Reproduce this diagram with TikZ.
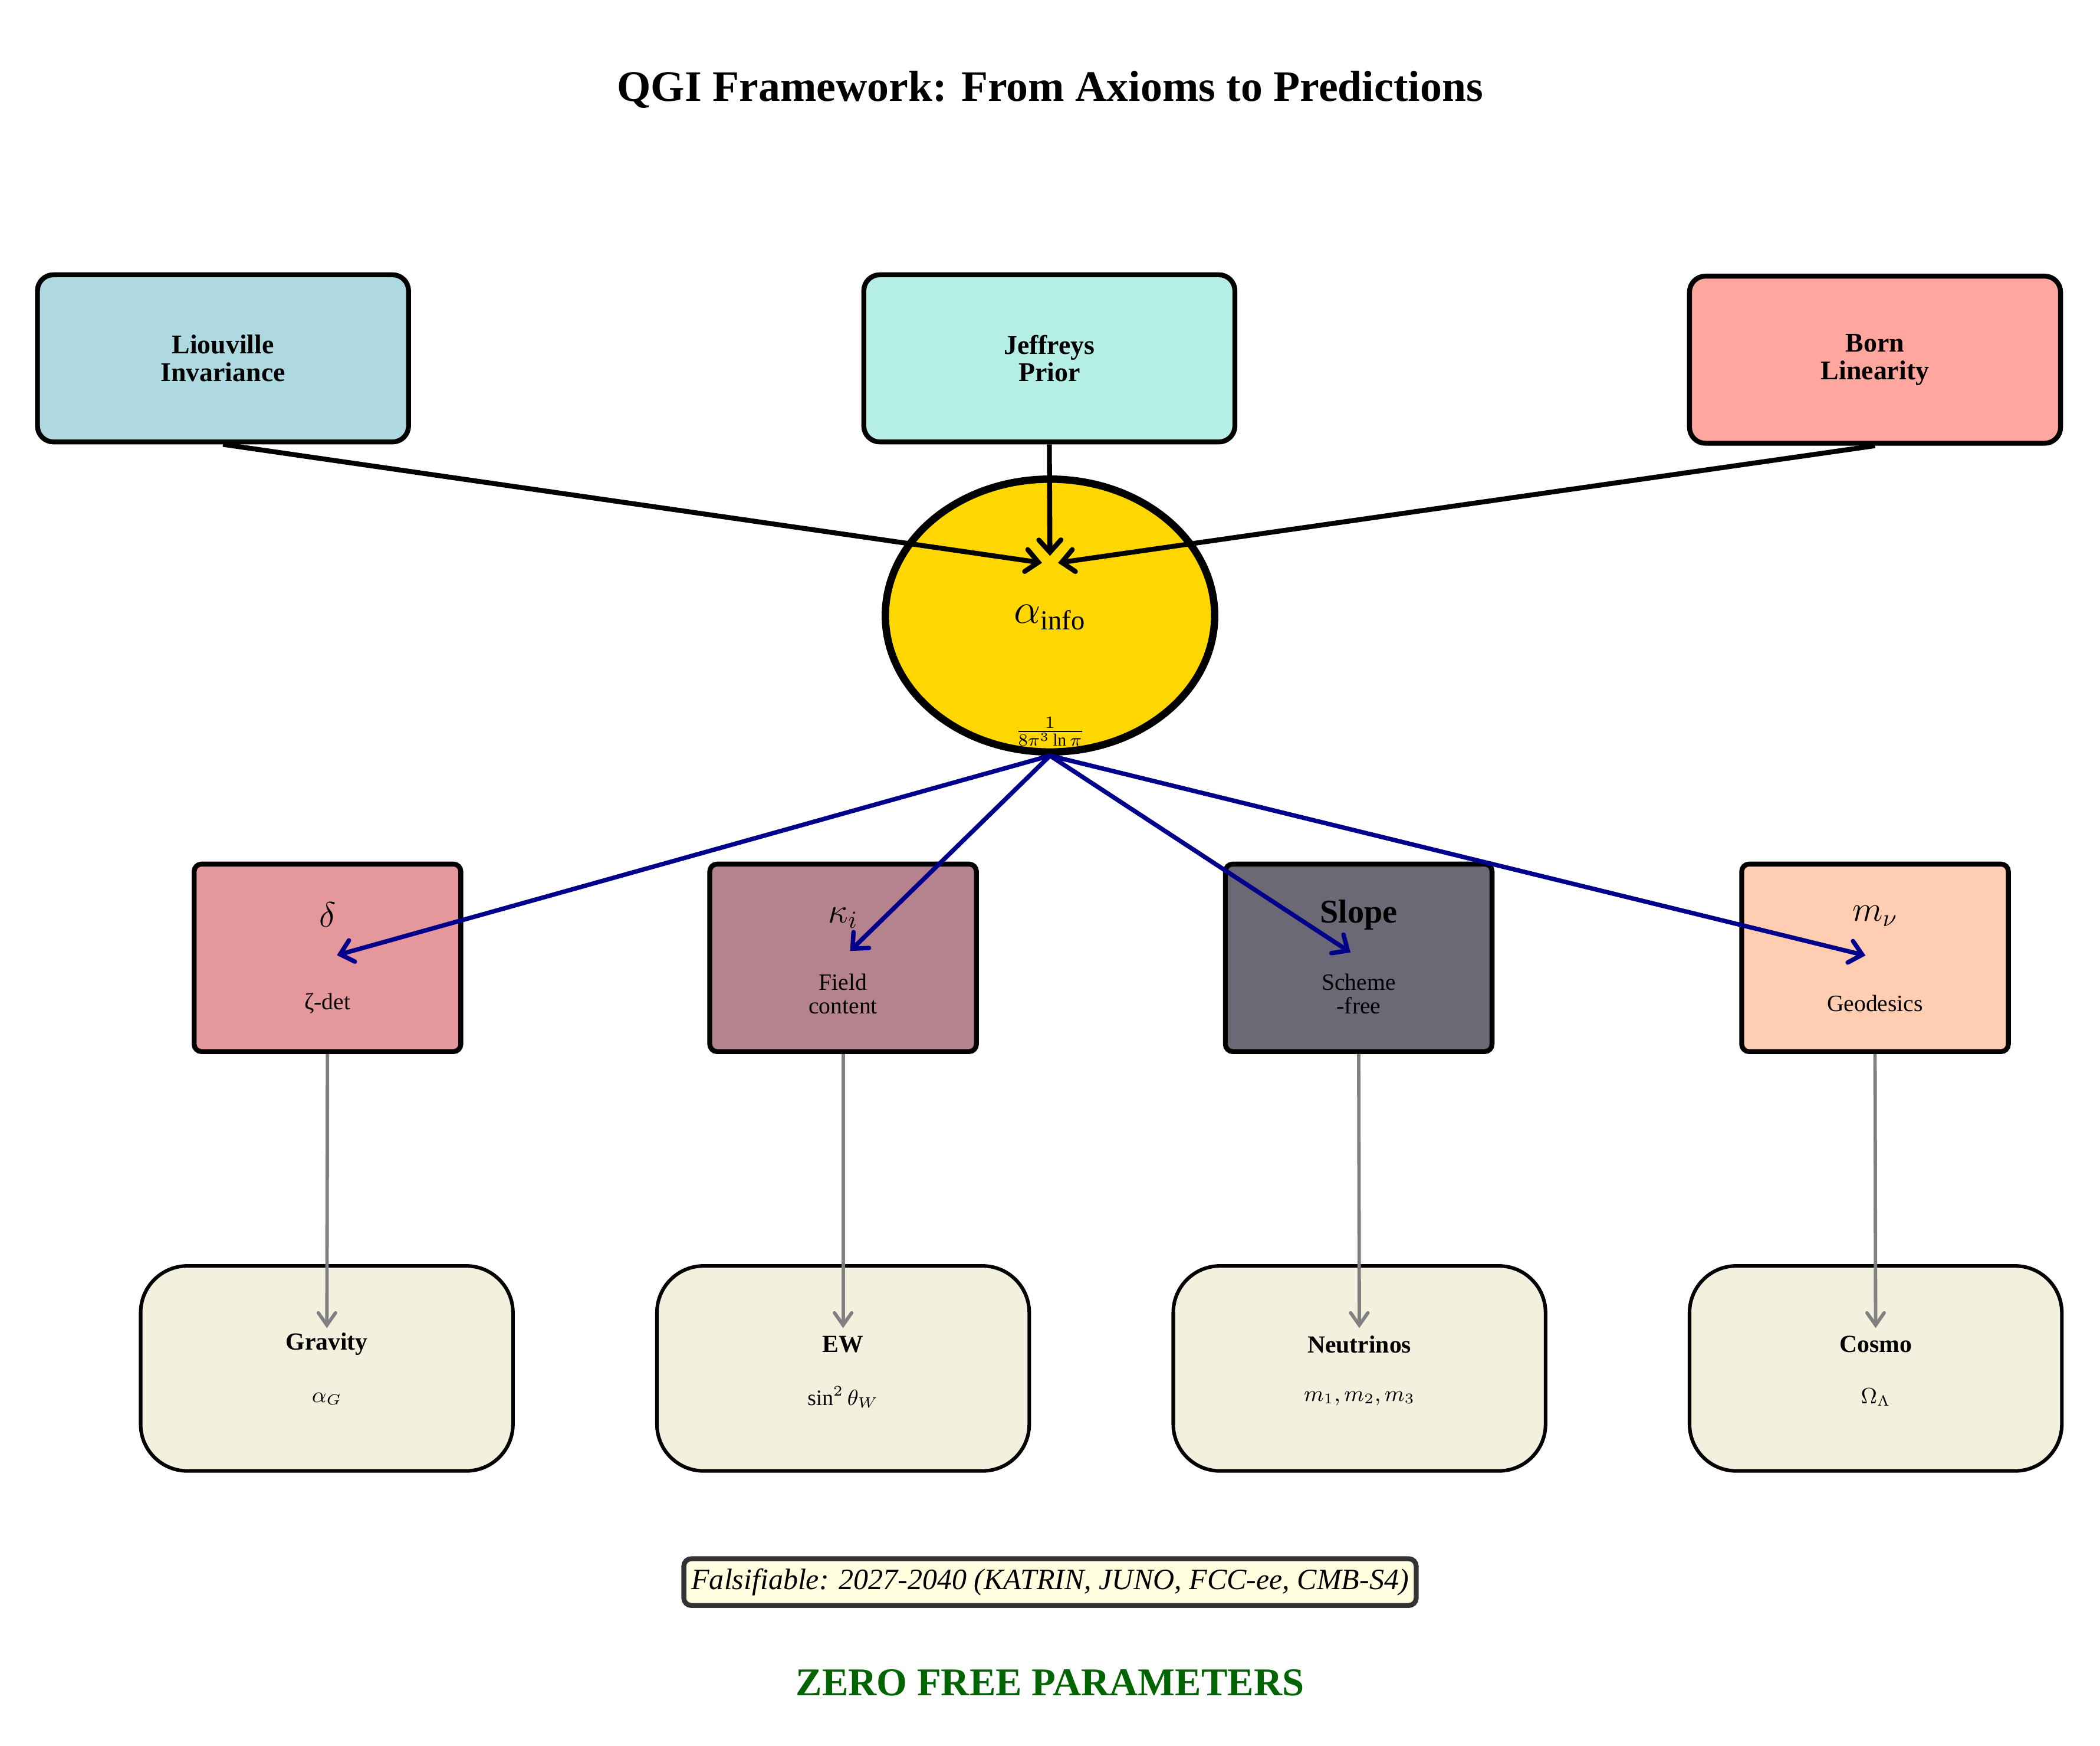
\documentclass[tikz,border=0pt]{standalone}
\usepackage{fontspec}
\setmainfont{Liberation Serif}
\usetikzlibrary{arrows.meta,shapes.geometric}
\definecolor{liou}{HTML}{AED9E0}
\definecolor{jeff}{HTML}{B4EEE4}
\definecolor{born}{HTML}{FFA69E}
\definecolor{gold}{HTML}{FFD700}
\definecolor{cdelta}{HTML}{E5989B}
\definecolor{ckappa}{HTML}{B5838D}
\definecolor{cslope}{HTML}{6D6875}
\definecolor{cmnu}{HTML}{FFCDB2}
\definecolor{pred}{HTML}{F3F0DE}
\definecolor{ivory}{HTML}{FFFFE0}
\definecolor{dgray}{HTML}{333333}
\definecolor{navy}{HTML}{00008B}
\definecolor{dgreen}{HTML}{006400}
\tikzset{
  axiom/.style={draw=black, line width=2pt, rounded corners=6.5pt, minimum width=151pt, minimum height=68pt, align=center, inner sep=0pt, font=\fontsize{11}{11.2}\selectfont\bfseries},
  core/.style={ellipse, draw=black, line width=3pt, fill=gold, minimum width=134pt, minimum height=111pt, inner sep=0pt},
  midbox/.style={draw=black, line width=2pt, rounded corners=3pt, minimum width=108.5pt, minimum height=76.3pt, inner sep=0pt},
  predbox/.style={draw=black, line width=1.45pt, rounded corners=19pt, fill=pred, minimum width=151.5pt, minimum height=83.4pt, inner sep=0pt},
  toplab/.style={inner sep=0pt, font=\fontsize{14}{14}\selectfont},
  sublab/.style={inner sep=0pt, align=center, font=\fontsize{9.5}{9.6}\selectfont},
  predtitle/.style={inner sep=0pt, font=\fontsize{10}{10}\selectfont\bfseries},
  predmath/.style={inner sep=0pt, font=\fontsize{9}{9}\selectfont},
  blackarrow/.style={draw=black, line width=2pt, -{Straight Barb[length=5pt,width=9pt,line cap=round]}},
  bluearrow/.style={draw=navy, line width=1.8pt, -{Straight Barb[length=5pt,width=9pt,line cap=round]}},
  grayarrow/.style={draw=gray, line width=1.4pt, -{Straight Barb[length=5pt,width=7pt,line cap=round]}}
}
\begin{document}
\begin{tikzpicture}[x=0.545pt,y=-0.545pt]
\useasboundingbox (0,0) rectangle (1568,1303);
% title
\node[inner sep=0pt, font=\fontsize{17.7}{21}\selectfont\bfseries] (title) at (784,67) {QGI Framework: From Axioms to Predictions};
% axioms
\node[axiom, fill=liou] (liou) at (166.5,267.5) {Liouville\\Invariance};
\node[axiom, fill=jeff] (jeff) at (783.5,267.5) {Jeffreys\\Prior};
\node[axiom, fill=born] (born) at (1400,268.5) {Born\\Linearity};
% core
\node[core] (alpha) at (784,459.5) {};
\node[inner sep=0pt, font=\fontsize{16}{16}\selectfont] (alab) at (784,461) {$\alpha_{\mathrm{info}}$};
\node[inner sep=0pt, font=\fontsize{10}{10}\selectfont] (afrac) at (784,546) {$\frac{1}{8\pi^3\ln\pi}$};
\coordinate (hub) at (784,421);
% middle boxes
\node[midbox, fill=cdelta] (d) at (244.5,715) {};
\node[midbox, fill=ckappa] (k) at (629.5,715) {};
\node[midbox, fill=cslope] (s) at (1014.5,715) {};
\node[midbox, fill=cmnu] (m) at (1400,715) {};
% prediction boxes
\node[predbox] (grav) at (244,1021.5) {};
\node[predbox] (ew) at (629.5,1021.5) {};
\node[predbox] (neu) at (1015,1021.5) {};
\node[predbox] (cos) at (1400.5,1021.5) {};
% arrows
\draw[blackarrow, shorten >=3.3pt] (liou.south) -- (hub);
\draw[blackarrow, shorten >=3.3pt] (jeff.south) -- (hub);
\draw[blackarrow, shorten >=3.3pt] (born.south) -- (hub);
\draw[bluearrow, shorten >=4pt] (alpha.south) -- (d.center);
\draw[bluearrow, shorten >=4pt] (alpha.south) -- (k.center);
\draw[bluearrow, shorten >=4pt] (alpha.south) -- (s.center);
\draw[bluearrow, shorten >=4pt] (alpha.south) -- (m.center);
\draw[grayarrow, shorten >=16.4pt] (d.south) -- (grav.center);
\draw[grayarrow, shorten >=16.4pt] (k.south) -- (ew.center);
\draw[grayarrow, shorten >=16.4pt] (s.south) -- (neu.center);
\draw[grayarrow, shorten >=16.4pt] (m.south) -- (cos.center);
% middle labels
\node[toplab] (dl) at (244.5,683) {$\delta$};
\node[sublab] (ds) at (244.5,749) {ζ-det};
\node[toplab] (kl) at (629.5,685) {$\kappa_i$};
\node[sublab] (ks) at (629.5,742) {Field\\content};
\node[toplab, font=\fontsize{13.5}{14}\selectfont\bfseries] (sl) at (1014.5,683) {Slope};
\node[sublab] (ss) at (1014.5,742) {Scheme\\-free};
\node[toplab] (ml) at (1400,684) {$m_\nu$};
\node[sublab] (ms) at (1400,749) {Geodesics};
% prediction labels
\node[predtitle] (gravt) at (244,1003.5) {Gravity};
\node[predmath] (gravm) at (244,1044) {$\alpha_G$};
\node[predtitle] (ewt) at (629.5,1003.5) {EW};
\node[predmath] (ewm) at (629.5,1043) {$\sin^2\theta_W$};
\node[predtitle] (neut) at (1015,1003.5) {Neutrinos};
\node[predmath] (neum) at (1015,1044) {$m_1{,}\,m_2{,}\,m_3$};
\node[predtitle] (cost) at (1400.5,1003.5) {Cosmo};
\node[predmath] (cosm) at (1400.5,1043) {$\Omega_\Lambda$};
% bottom
\node[draw=dgray, fill=ivory, line width=2pt, rounded corners=3pt, minimum width=298pt, minimum height=19pt, inner sep=2pt, font=\fontsize{12}{12}\selectfont\itshape] (fals) at (784,1181) {Falsifiable: 2027-2040 (KATRIN, JUNO, FCC-ee, CMB-S4)};
\node[inner sep=0pt, text=dgreen, font=\fontsize{16}{16}\selectfont\bfseries] (zero) at (784,1256) {ZERO FREE PARAMETERS};
\end{tikzpicture}
\end{document}
